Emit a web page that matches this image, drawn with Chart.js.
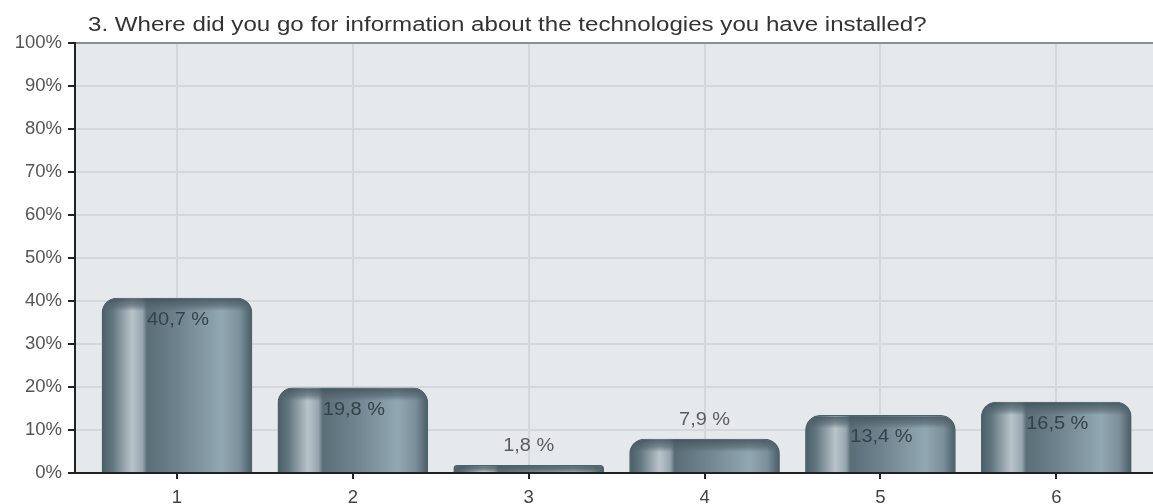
<!DOCTYPE html>
<html>
<head>
<meta charset="utf-8">
<title>Survey chart</title>
<script src="https://cdn.jsdelivr.net/npm/chart.js@4.4.1/dist/chart.umd.min.js"></script>
<style>
  html, body { margin: 0; padding: 0; background: #ffffff; }
  #wrap { width: 1153px; height: 504px; }
</style>
</head>
<body>
<div id="wrap"><canvas id="surveyChart" width="1153" height="504"></canvas></div>
<script>
const chartTitle = "3. Where did you go for information about the technologies you have installed?";
const categories = ["1", "2", "3", "4", "5", "6"];
const percentages = [40.7, 19.8, 1.8, 7.9, 13.4, 16.5];
const valueLabels = ["40,7 %", "19,8 %", "1,8 %", "7,9 %", "13,4 %", "16,5 %"];
const yTicks = [0, 10, 20, 30, 40, 50, 60, 70, 80, 90, 100];

const FONT = "'Liberation Sans', Arial, sans-serif";
const BAR_W = 150;

// draw text a bit wider than the font, like the original renderer
function wideText(ctx, text, x, y, stretch) {
  ctx.save();
  ctx.translate(x, y);
  ctx.scale(stretch, 1);
  ctx.fillText(text, 0, 0);
  ctx.restore();
}

// plot background + title
const backdrop = {
  id: "backdrop",
  beforeDraw(chart) {
    const { ctx, chartArea: a } = chart;
    ctx.save();
    ctx.fillStyle = "#e6e9ec";
    ctx.fillRect(a.left, a.top, a.right - a.left, a.bottom - a.top);
    ctx.fillStyle = "#333333";
    ctx.font = "20px " + FONT;
    ctx.textBaseline = "middle";
    ctx.textAlign = "left";
    wideText(ctx, chartTitle, a.left + 13, 25, 1.205);
    ctx.restore();
  }
};

// darker rounded cap on every bar, then the value labels
const valueText = {
  id: "valueText",
  afterDatasetsDraw(chart) {
    const { ctx } = chart;
    ctx.save();
    chart.getDatasetMeta(0).data.forEach(bar => {
      const l = bar.x - bar.width / 2;
      const h = Math.min(bar.base - bar.y, 13);
      ctx.save();
      ctx.beginPath();
      ctx.roundRect(l + 1, bar.y + 1, bar.width - 2, h, [14, 14, 0, 0]);
      ctx.clip();
      const g = ctx.createLinearGradient(0, bar.y, 0, bar.y + h);
      g.addColorStop(0, "rgba(62,80,90,0.85)");
      g.addColorStop(0.6, "rgba(80,98,108,0.6)");
      g.addColorStop(1, "rgba(80,98,108,0)");
      ctx.fillStyle = g;
      ctx.fillRect(l, bar.y, bar.width, h);
      ctx.restore();
    });

    ctx.font = "17.5px " + FONT;
    ctx.textAlign = "center";
    ctx.textBaseline = "middle";
    chart.getDatasetMeta(0).data.forEach((bar, i) => {
      if (percentages[i] >= 10) {
        ctx.fillStyle = "#34434b";
        wideText(ctx, valueLabels[i], bar.x + 1, bar.y + 22, 1.14);
      } else {
        ctx.fillStyle = "#5c5c5c";
        wideText(ctx, valueLabels[i], bar.x, bar.y - 19, 1.14);
      }
    });
    ctx.restore();
  }
};

function metalFill(c) {
  const xs = c.chart.scales.x;
  if (!xs || c.dataIndex === undefined) return "#748994";
  const l = xs.getPixelForValue(c.dataIndex + 1) - BAR_W / 2;
  if (!isFinite(l)) return "#748994";
  const g = c.chart.ctx.createLinearGradient(l, 0, l + BAR_W, 0);
  g.addColorStop(0, "#4a5e69");
  g.addColorStop(0.07, "#62767f");
  g.addColorStop(0.13, "#8a9aa2");
  g.addColorStop(0.2, "#b9c4ca");
  g.addColorStop(0.27, "#96a6ae");
  g.addColorStop(0.3, "#5a6e78");
  g.addColorStop(0.5, "#6d828d");
  g.addColorStop(0.8, "#91a7b2");
  g.addColorStop(0.92, "#7b8f99");
  g.addColorStop(1, "#4a5c66");
  return g;
}

new Chart(document.getElementById("surveyChart"), {
  type: "bar",
  data: {
    datasets: [{
      data: categories.map((c, i) => ({ x: i + 1, y: percentages[i] })),
      backgroundColor: metalFill,
      borderColor: "#4f616b",
      borderWidth: 1,
      borderSkipped: "bottom",
      borderRadius: { topLeft: 15, topRight: 15 },
      barThickness: BAR_W
    }]
  },
  plugins: [backdrop, valueText],
  options: {
    responsive: false,
    animation: false,
    layout: { padding: { top: 43, right: 0, left: 0, bottom: 0 } },
    plugins: {
      legend: { display: false },
      title: { display: false },
      tooltip: { enabled: false }
    },
    scales: {
      x: {
        type: "linear",
        offset: false,
        min: 0.42,
        max: 6.55,
        afterBuildTicks: s => { s.ticks = categories.map((c, i) => ({ value: i + 1 })); },
        afterFit: s => { s.height = 31; },
        ticks: {
          callback: v => categories[v - 1],
          color: "#444444",
          font: { family: FONT, size: 18.5 },
          padding: 8,
          maxRotation: 0
        },
        grid: { offset: false, color: "#d5d8db", lineWidth: 2, tickLength: 6, tickColor: "#222222" },
        border: { color: "#222222", width: 2 }
      },
      y: {
        min: 0,
        max: 100,
        afterBuildTicks: s => { s.ticks = yTicks.map(v => ({ value: v })); },
        afterFit: s => { s.width = 75; },
        ticks: {
          callback: v => v + "%",
          color: "#555555",
          font: { family: FONT, size: 18.5 },
          padding: 6
        },
        grid: {
          color: c => (c.tick && c.tick.value === 100 ? "#8e8e8e" : "#d5d8db"),
          lineWidth: 2,
          tickLength: 7,
          tickColor: "#222222"
        },
        border: { color: "#222222", width: 2 }
      }
    }
  }
});
</script>
</body>
</html>
